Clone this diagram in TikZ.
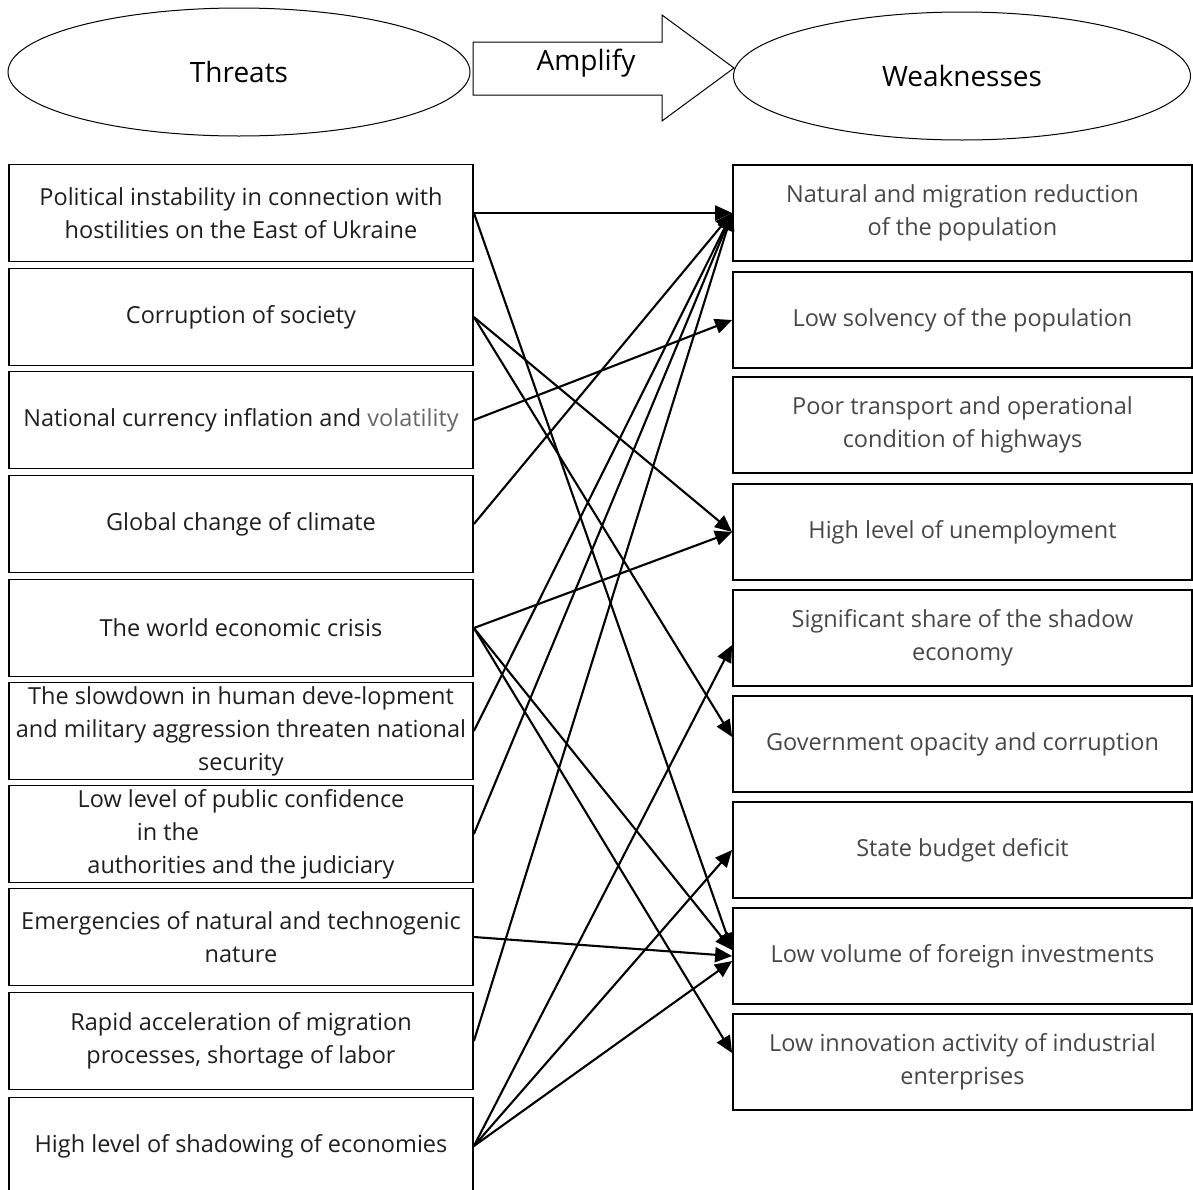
\documentclass[tikz,border=0pt]{standalone}
\usepackage{fontspec}
\setmainfont{Open Sans}
\usetikzlibrary{arrows.meta,shapes.geometric}

\tikzset{
  threat/.style={draw, line width=1.8pt, minimum width=464pt, minimum height=97pt,
    inner sep=0pt, align=center, text=black!88, font=\fontsize{23.5}{33}\selectfont},
  weak/.style={threat, minimum width=459pt, minimum height=96pt, text=black!72},
  oval/.style={ellipse, draw, line width=1pt, inner sep=0pt, font=\fontsize{28}{30}\selectfont},
  link/.style={-{Triangle[length=17pt,width=15pt]}, line width=2.1pt},
}

\begin{document}
\begin{tikzpicture}[x=1pt,y=-1pt]
\useasboundingbox (0,0) rectangle (1193,1189);

% header
\node[oval, minimum width=462pt, minimum height=128pt] (threats) at (239,72) {Threats};
\node[oval, minimum width=457pt, minimum height=128pt] (weak) at (962,76) {Weaknesses};
\draw[line width=1pt, fill=white] (473,42) -- (662,42) -- (662,15) -- (734,68)
  -- (662,121) -- (662,95) -- (473,95) -- cycle;
\node[font=\fontsize{28}{30}\selectfont] (amplify) at (586,63) {Amplify};

% threats
\foreach \i/\y/\txt in {
    1/213/{Political instability in connection with\\hostilities on the East of Ukraine},
    2/317/{Corruption of society},
    3/420/{National currency inflation and \textcolor{black!60}{volatility}},
    4/524/{Global change of climate},
    5/628/{The world economic crisis},
    6/731/{The slowdown in human deve-lopment\\and military aggression threaten national\\security},
    7/834/{Low level of public confidence\\in the\rule{146pt}{0pt}\\authorities and the judiciary},
    8/937/{Emergencies of natural and technogenic\\nature},
    9/1041/{Rapid acceleration of migration\\processes, shortage of labor},
    10/1146/{High level of shadowing of economies}} {
  \node[threat] (L\i) at (241,\y) {\txt};
}

% weaknesses
\foreach \i/\y/\txt in {
    1/213/{Natural and migration reduction\\of the population},
    2/320/{Low solvency of the population},
    3/425/{Poor transport and operational\\condition of highways},
    4/532/{High level of unemployment},
    5/638/{Significant share of the shadow\\economy},
    6/744/{Government opacity and corruption},
    7/850/{State budget deficit},
    8/956/{Low volume of foreign investments},
    9/1062/{Low innovation activity of industrial\\enterprises}} {
  \node[weak] (R\i) at (962.5,\y) {\txt};
}

% links
\foreach \a/\b in {1/1,4/1,6/1,7/1,9/1,3/2,2/4,5/4,8/8,10/7}
  \draw[link] (L\a.east) -- (R\b.west);
\foreach \a in {1,5}
  \draw[link] (L\a.east) -- ([yshift=6pt]R8.west);
\draw[link] (L10.east) -- ([yshift=-5pt]R8.west);
\draw[link] (L10.east) -- ([yshift=-7pt]R5.west);
\draw[link] (L2.east) -- ([yshift=7pt]R6.west);
\draw[link] (L5.east) -- ([yshift=9pt]R9.west);
\end{tikzpicture}
\end{document}
